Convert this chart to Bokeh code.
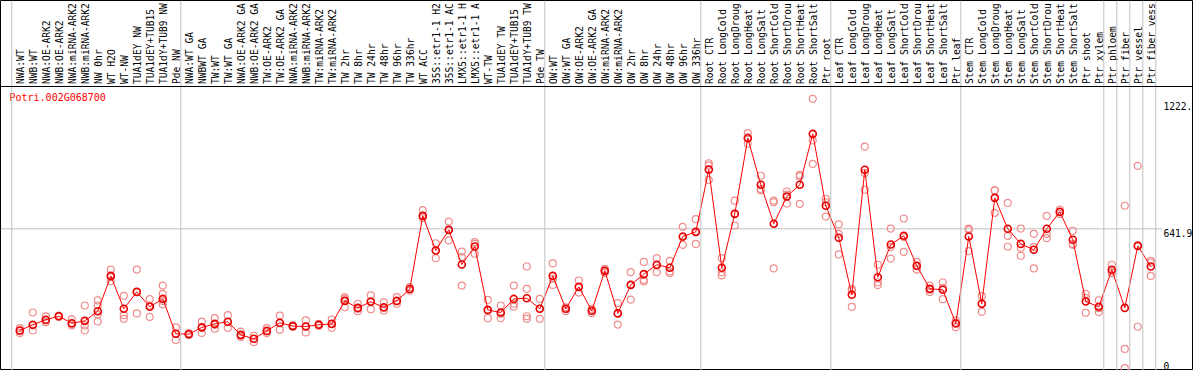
import math
from bokeh.plotting import figure
from bokeh.models import Range1d, Span
from bokeh.core.properties import value
from bokeh.embed import file_html
from bokeh.resources import INLINE

# ---------------- data ----------------
gene = "Potri.002G068700"

categories = [
    "NWA:WT", "NWB:WT", "NWA:OE-ARK2", "NWB:OE-ARK2", "NWA:miRNA-ARK2", "NWB:miRNA-ARK2",
    "NW 0hr", "WT H2O", "WT-NW", "TUA1dEY NW", "TUA1dEY+TUB15", "TUA1dY+TUB9 NW", "Pde NW",
    "NWA:WT GA", "NWBWT GA", "TW:WT", "TW:WT GA", "NWA:OE-ARK2 GA", "NWB:OE-ARK2 GA",
    "TW:OE-ARK2", "TW:OE-ARK2 GA", "NWA:miRNA-ARK2", "NWB:miRNA-ARK2", "TW:miRNA-ARK2",
    "TW:miRNA-ARK2", "TW 2hr", "TW 8hr", "TW 24hr", "TW 48hr", "TW 96hr", "TW 336hr",
    "WT ACC", "35S::etr1-1 H2", "35S::etr1-1 AC", "LMX5::etr1-1 H", "LMX5::etr1-1 A",
    "WT-TW", "TUA1dEY TW", "TUA1dEY+TUB15", "TUA1dY+TUB9 TW", "Pde TW",
    "OW:WT", "OW:WT GA", "OW:OE-ARK2", "OW:OE-ARK2 GA", "OW:miRNA-ARK2", "OW:miRNA-ARK2",
    "OW 2hr", "OW 8hr", "OW 24hr", "OW 48hr", "OW 96hr", "OW 336hr",
    "Root CTR", "Root LongCold", "Root LongDroug", "Root LongHeat", "Root LongSalt",
    "Root ShortCold", "Root ShortDrou", "Root ShortHeat", "Root ShortSalt", "Ptr root",
    "Leaf CTR", "Leaf LongCold", "Leaf LongDroug", "Leaf LongHeat", "Leaf LongSalt",
    "Leaf ShortCold", "Leaf ShortDrou", "Leaf ShortHeat", "Leaf ShortSalt", "Ptr leaf",
    "Stem CTR", "Stem LongCold", "Stem LongDroug", "Stem LongHeat", "Stem LongSalt",
    "Stem ShortCold", "Stem ShortDrou", "Stem ShortHeat", "Stem ShortSalt", "Ptr shoot",
    "Ptr xylem", "Ptr phloem", "Ptr fiber", "Ptr vessel", "Ptr fiber vess",
]

group_sizes = [13, 28, 12, 10, 10, 11, 1, 1, 1, 1]

means = [
    178, 204, 227, 243, 211, 222, 266, 427, 277, 354, 286, 322, 163,
    161, 192, 208, 218, 158, 140, 176, 213, 198, 196, 204, 208, 313, 281, 309, 284,
    313, 367, 701, 543, 637, 479, 561, 272, 260, 322, 325, 277,
    427, 277, 377, 268, 450, 256, 386, 435, 478, 464, 607, 628,
    912, 464, 710, 1055, 843, 665, 789, 843, 1075, 747,
    601, 341, 911, 421, 570, 610, 473, 368, 364, 210,
    607, 300, 783, 642, 573, 546, 642, 719, 592, 310, 286,
    455, 281, 564, 470,
]

replicates = [
    [189, 175, 166], [260, 178, 201], [242, 224, 216], [246, 243, 240], [230, 208, 201],
    [292, 201, 178], [315, 292, 251, 219], [456, 421, 403], [336, 248, 231], [456, 354, 256],
    [321, 292, 240], [383, 345, 312, 297], [192, 163, 135],
    [166, 161, 157], [218, 190, 167], [234, 204, 186], [248, 216, 190], [173, 155, 148],
    [154, 140, 125], [189, 175, 166], [246, 211, 181], [201, 198, 195], [224, 196, 169],
    [208, 204, 199], [228, 208, 190], [330, 322, 284], [300, 277, 266], [338, 312, 275],
    [306, 281, 268], [330, 312, 300], [376, 367, 360], [727, 701, 690], [576, 543, 508],
    [675, 637, 589], [538, 513, 383], [581, 573, 528], [318, 269, 234], [292, 254, 234],
    [383, 300, 287], [470, 368, 243, 231], [322, 277, 231],
    [484, 414, 386], [284, 277, 266], [406, 376, 351], [277, 266, 257], [459, 450, 441],
    [303, 257, 205], [444, 386, 319], [491, 409, 402], [508, 475, 444], [496, 447, 440],
    [651, 604, 569], [686, 627, 573],
    [941, 931, 865], [508, 444, 429], [770, 710, 657], [1078, 1060, 1030], [884, 824, 818],
    [770, 763, 461], [812, 798, 757], [888, 881, 756], [1235, 1045, 938], [779, 763, 698],
    [662, 619, 525], [368, 360, 286], [1017, 896, 820], [478, 398, 385], [643, 558, 506],
    [689, 604, 537], [491, 471, 456], [383, 365, 353], [397, 373, 321], [224, 213, 193],
    [643, 637, 540], [335, 300, 263], [817, 817, 715], [760, 610, 560], [643, 555, 519],
    [619, 558, 461], [701, 619, 599], [730, 719, 709], [633, 573, 569], [345, 327, 259],
    [316, 280, 262],
    [478, 447, 440], [747, 94, 6], [929, 566, 195], [496, 487, 427],
]

y_ticks = [0, 641.9, 1222.3]
y_tick_labels = ["0", "641.9", "1222."]

# ---------------- layout ----------------
W, H = 1193, 370
CAT_PX = 13.0            # pixel width of one category
FIRST_PX = 19.3          # first category centre, px from frame left
ZERO_PX = 369.0          # px from frame top where value 0 sits
UNIT_PX = 140.7 / 641.9  # px per expression unit
HEADER_PX = 86.0         # height of the label band (px from frame top)
FONT_SIZE = "9.6px"

x0 = 1 - FIRST_PX / CAT_PX
x1 = x0 + W / CAT_PX
y1 = ZERO_PX / UNIT_PX
y0 = y1 - H / UNIT_PX


def dx(px):
    return x0 + px / CAT_PX


def dy(py):
    return y1 - py / UNIT_PX


p = figure(width=W, height=H, output_backend="svg", toolbar_location=None,
           x_axis_type=None, y_axis_type=None,
           x_range=Range1d(x0, x1), y_range=Range1d(y0, y1),
           min_border=0, min_border_left=0, min_border_right=0,
           min_border_top=0, min_border_bottom=0,
           background_fill_color="white", border_fill_color="white",
           outline_line_color="black", outline_line_width=1)

GRAY = "#c0c0c0"
FONT = value("DejaVu Sans Mono")

# group separators
bounds = [0]
for g in group_sizes:
    bounds.append(bounds[-1] + g)
for b in bounds:
    p.add_layout(Span(location=b + 5 / CAT_PX, dimension="height",
                      line_color=GRAY, line_width=1))

# header separator
p.add_layout(Span(location=dy(HEADER_PX), dimension="width",
                  line_color="black", line_width=1))

# middle reference line
p.segment(x0=[x0], y0=[y_ticks[1]], x1=[dx(1161.5)], y1=[y_ticks[1]],
          line_color=GRAY, line_width=1)

xs = list(range(1, len(categories) + 1))

# category labels
p.text(x=[x + 1.0 / CAT_PX for x in xs], y=[dy(HEADER_PX - 2.5)] * len(xs), text=categories,
       angle=math.pi / 2, text_align="left", text_baseline="middle",
       text_font=FONT, text_font_size=FONT_SIZE, text_color="black")

# replicates
rx, ry = [], []
for x, reps in zip(xs, replicates):
    for r in reps:
        rx.append(x)
        ry.append(r)
p.scatter(rx, ry, marker="circle", size=7, fill_color=None,
          line_color="#ef8c8c", line_width=1.2)

# mean line + points
p.line(xs, means, line_color="#ff0000", line_width=1)
p.scatter(xs, means, marker="circle", size=7, fill_color=None,
          line_color="#e80000", line_width=1.6)

# title
p.text(x=[dx(9.0)], y=[dy(96.7)], text=[gene], text_align="left", text_baseline="middle",
       text_font=FONT, text_font_size="10px", text_color="#ff0000")

# value labels at the right
p.text(x=[dx(1163)] * 2, y=y_ticks[1:], text=y_tick_labels[1:],
       text_align="left", text_baseline="top",
       text_font=FONT, text_font_size=FONT_SIZE, text_color="black")
p.text(x=[dx(1163)], y=[y_ticks[0]], text=[y_tick_labels[0]],
       text_align="left", text_baseline="bottom",
       text_font=FONT, text_font_size=FONT_SIZE, text_color="black")

open("out.html", "w").write(file_html(p, INLINE))
